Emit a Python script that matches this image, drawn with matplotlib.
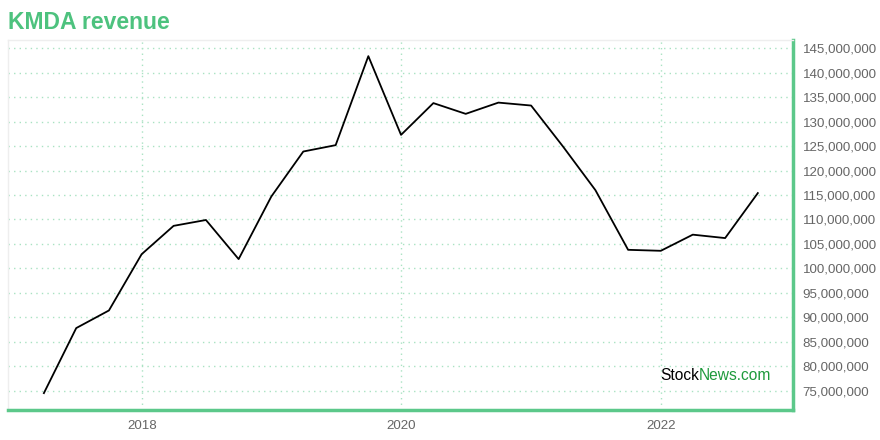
import matplotlib
matplotlib.use("Agg")
import matplotlib.pyplot as plt
import matplotlib.transforms as mtransforms
import pandas as pd

plt.rcParams['font.family'] = ['Liberation Sans', 'DejaVu Sans']

# Quarter-end dates (2017Q1 .. 2022Q3)
dates = pd.to_datetime([
    "2017-03-31", "2017-06-30", "2017-09-30", "2017-12-31",
    "2018-03-31", "2018-06-30", "2018-09-30", "2018-12-31",
    "2019-03-31", "2019-06-30", "2019-09-30", "2019-12-31",
    "2020-03-31", "2020-06-30", "2020-09-30", "2020-12-31",
    "2021-03-31", "2021-06-30", "2021-09-30", "2021-12-31",
    "2022-03-31", "2022-06-30", "2022-09-30",
])
revenue = [
    74.5e6, 87.8e6, 91.4e6, 102.9e6,
    108.7e6, 109.9e6, 101.9e6, 114.7e6,
    123.9e6, 125.2e6, 143.4e6, 127.3e6,
    133.8e6, 131.6e6, 133.9e6, 133.3e6,
    124.9e6, 116.0e6, 103.8e6, 103.6e6,
    106.9e6, 106.2e6, 115.4e6,
]
y_ticks = [75e6 + 5e6 * i for i in range(15)]
x_tick_years = [2018, 2020, 2022]

title_green = "#4dc27e"
spine_green = "#5cc88a"
grid_green = "#a9e2c2"
label_gray = "#666666"

fig = plt.figure(figsize=(8.8, 4.4), dpi=100)
ax = fig.add_axes([8/880, 30/440, 785/880, 370/440])

ax.plot(dates, revenue, color="black", linewidth=1.3)

ax.set_xlim(pd.Timestamp("2016-12-20"), pd.Timestamp("2023-01-07"))
ax.set_ylim(71.05e6, 146.7e6)

ax.yaxis.tick_right()
ax.set_yticks(y_ticks)
ax.set_yticklabels([f"{int(v):,}" for v in y_ticks])
ax.set_xticks([pd.Timestamp(f"{y}-01-01") for y in x_tick_years])
ax.set_xticklabels([str(y) for y in x_tick_years])
ax.tick_params(axis='both', length=0, labelsize=9.6, labelcolor=label_gray)
ax.tick_params(axis='y', pad=7)
ax.tick_params(axis='x', pad=7)

ax.grid(True, color=grid_green, linestyle=(0, (1, 3)), linewidth=1)

for s in ("top", "left"):
    ax.spines[s].set_color("#eeeeee")
    ax.spines[s].set_linewidth(1)
for s in ("right", "bottom"):
    ax.spines[s].set_color(spine_green)
    ax.spines[s].set_linewidth(2.5)

fig.text(8/880, 1 - 29/440, "KMDA revenue", color=title_green, fontsize=16.5,
         fontweight="bold", ha="left", va="baseline")

t1 = ax.text(660, 440 - 380, "Stock", fontsize=11.2, color="black",
             ha="left", va="baseline", transform=mtransforms.IdentityTransform())
ax.annotate("News.com", xy=(1, 0), xycoords=t1, xytext=(0, 0),
            textcoords="offset points", fontsize=11.2, color="#1e9a3c",
            ha="left", va="bottom")

fig.savefig("out.png", dpi=100)
